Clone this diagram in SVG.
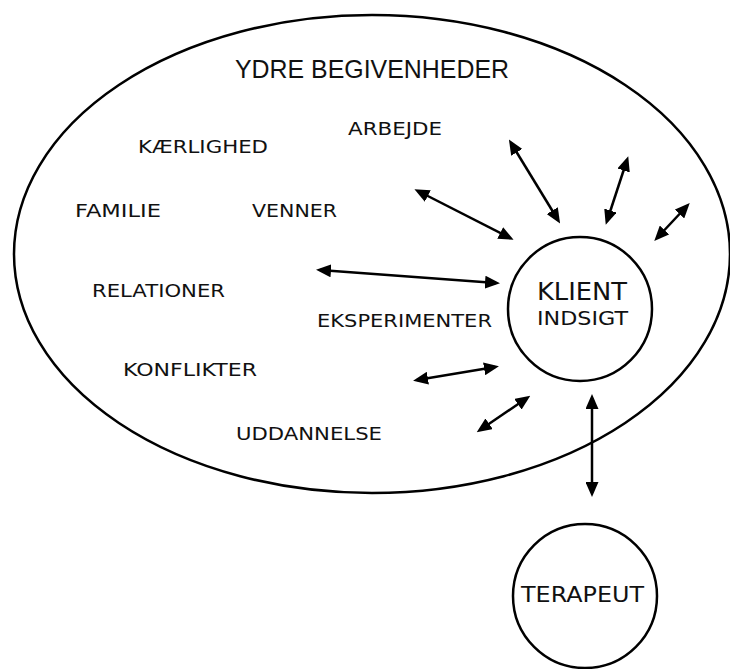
<svg xmlns="http://www.w3.org/2000/svg" width="730" height="669" viewBox="0 0 730 669">
<style>
.outline{fill:none;stroke:#000;stroke-width:2.5}
.node{fill:#fff;stroke:#000;stroke-width:2.5}
.lbl{font-family:"DejaVu Sans","Liberation Sans",sans-serif;font-size:18px;fill:#111}
.title{font-family:"Liberation Sans","DejaVu Sans",sans-serif;font-size:25px;fill:#111}
.conn line{stroke:#000;stroke-width:2.5;marker-start:url(#ah);marker-end:url(#ah)}
</style>
<defs>
<marker id="ah" markerUnits="userSpaceOnUse" markerWidth="15" markerHeight="13" refX="11" refY="6.5" orient="auto-start-reverse">
<path d="M0,0 L15,6.5 L0,13 z" fill="#000"/>
</marker>
</defs>
<rect width="730" height="669" fill="#fff"/>
<g id="ydre">
<ellipse class="outline" cx="372" cy="254" rx="358" ry="239"/>
<text class="title" x="235" y="78" textLength="274" lengthAdjust="spacingAndGlyphs">YDRE  BEGIVENHEDER</text>
<text class="lbl" x="348" y="135" textLength="94" lengthAdjust="spacingAndGlyphs">ARBEJDE</text>
<text class="lbl" x="138" y="153" textLength="130" lengthAdjust="spacingAndGlyphs">KÆRLIGHED</text>
<text class="lbl" x="75" y="217" textLength="86" lengthAdjust="spacingAndGlyphs">FAMILIE</text>
<text class="lbl" x="252" y="217" textLength="85" lengthAdjust="spacingAndGlyphs">VENNER</text>
<text class="lbl" x="92" y="297" textLength="133" lengthAdjust="spacingAndGlyphs">RELATIONER</text>
<text class="lbl" x="317" y="327" textLength="175" lengthAdjust="spacingAndGlyphs">EKSPERIMENTER</text>
<text class="lbl" x="123" y="376" textLength="134" lengthAdjust="spacingAndGlyphs">KONFLIKTER</text>
<text class="lbl" x="236" y="440" textLength="146" lengthAdjust="spacingAndGlyphs">UDDANNELSE</text>
</g>
<g id="klient">
<circle class="node" cx="580" cy="309" r="72"/>
<text class="lbl" x="537" y="300" style="font-size:24px" textLength="90" lengthAdjust="spacingAndGlyphs">KLIENT</text>
<text class="lbl" x="537" y="325" style="font-size:20px" textLength="91" lengthAdjust="spacingAndGlyphs">INDSIGT</text>
</g>
<g id="terapeut">
<circle class="node" cx="585" cy="596" r="72"/>
<text class="lbl" x="521" y="602" style="font-size:21px" textLength="123" lengthAdjust="spacingAndGlyphs">TERAPEUT</text>
</g>
<g class="conn" id="connectors">
<line x1="418" y1="191" x2="510" y2="238"/>
<line x1="511" y1="143" x2="558" y2="220"/>
<line x1="627" y1="160" x2="607" y2="221"/>
<line x1="687" y1="206" x2="657" y2="238"/>
<line x1="320" y1="270" x2="496" y2="283"/>
<line x1="417" y1="380" x2="495" y2="367"/>
<line x1="480" y1="430" x2="527" y2="398"/>
<line x1="592" y1="398" x2="592" y2="493"/>
</g>
</svg>
